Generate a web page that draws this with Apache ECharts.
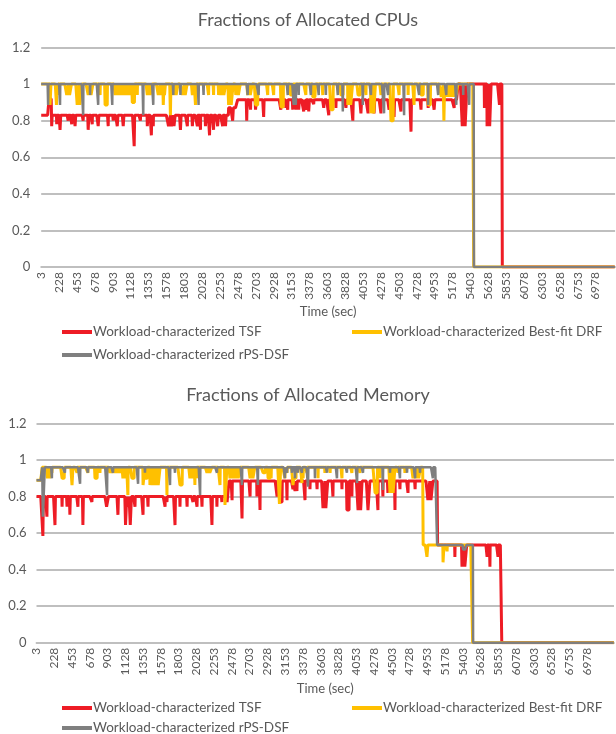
<!DOCTYPE html>
<html><head><meta charset="utf-8">
<script src="https://cdn.jsdelivr.net/npm/echarts@6/dist/echarts.min.js"></script>
<style>html,body{margin:0;padding:0;background:#fff}#c{width:616px;height:734px}</style>
</head><body><div id="c"></div>
<script>
// ---- labels / names ----
const titleTop = 'Fractions of Allocated CPUs';
const titleBottom = 'Fractions of Allocated Memory';
const xName = 'Time (sec)';
const names = ['Workload-characterized TSF', 'Workload-characterized Best-fit DRF', 'Workload-characterized rPS-DSF'];
const colors = ['#ee1c25', '#ffc000', '#7f7f7f'];
const xTickLabels = ['3','228','453','678','903','1128','1353','1578','1803','2028','2253','2478','2703','2928','3153','3378','3603','3828','4053','4278','4503','4728','4953','5178','5403','5628','5853','6078','6303','6528','6753','6978'];
// time axis: samples every 3 s starting at 3 s
const timeStart = 3, timeStep = 3;
const topEnd = 7224, bottomEnd = 7320;

// ---- CPU data: step levels [time, value] and dips [time, value, duration] ----
const cpuTsfLevels = [[3,0.83],[102,0.92],[138,0.83],[2361,0.87],[2475,0.915],[5250,1.0],[5805,0]];
const cpuTsfDips = [[135,0.77,6],[199,0.78],[240,0.75,9],[341,0.80],[388,0.78],[430,0.77,9],[530,0.80],[594,0.75,9],[644,0.78],[720,0.77,9],[846,0.77],[909,0.80],[960,0.77,9],[1035,0.77,9],[1174,0.66,6],[1250,0.80],[1338,0.77,9],[1389,0.72,6],[1414,0.77],[1605,0.77,24],[1640,0.77,24],[1675,0.77,15],[1755,0.75,9],[1843,0.77],[1906,0.77,9],[1969,0.77],[2007,0.75],[2070,0.77,9],[2121,0.72,6],[2171,0.75],[2222,0.77,9],[2285,0.77],[2323,0.77,9],[2411,0.80,9],[2588,0.80,6],[2638,0.86],[2701,0.86,9],[2802,0.82,6],[3017,0.86],[3080,0.87],[3105,0.86],[3168,0.86],[3206,0.86],[3244,0.86,9],[3307,0.85],[3332,0.86],[3370,0.85,9],[3433,0.89],[3559,0.87,9],[3622,0.83,6],[3711,0.87],[3837,0.87,9],[3925,0.80,6],[4026,0.84,9],[4115,0.84],[4190,0.84,9],[4279,0.84],[4380,0.86],[4443,0.82,6],[4531,0.85],[4657,0.74,6],[4783,0.86],[4872,0.87],[4948,0.86,9],[5200,0.87],[5300,0.77,24],[5336,0.77,24],[5580,0.87],[5613,0.77,24],[5645,0.77,18],[5768,0.886]];
const cpuDrfLevels = [[3,1.0],[5445,0]];
const cpuDrfDips = [[114,0.886,12],[195,0.886,9],[215,0.94],[325,0.94,24],[360,0.94,24],[455,0.886,24],[490,0.886,24],[594,0.94,24],[630,0.94,24],[745,0.94],[808,0.886,30],[934,0.94,24],[966,0.94,24],[998,0.94,24],[1030,0.94,24],[1062,0.94,24],[1094,0.94,24],[1126,0.94,18],[1150,0.90,30],[1212,0.94],[1338,0.94,24],[1374,0.94,24],[1477,0.94,24],[1510,0.94,24],[1540,0.886,9],[1553,0.94,12],[1628,0.83,6],[1666,0.94,24],[1700,0.94,24],[1780,0.94,24],[1815,0.94,24],[1906,0.94,24],[1944,0.886,12],[2108,0.94],[2171,0.94],[2234,0.94,24],[2268,0.94,24],[2302,0.94,24],[2360,0.886,24],[2395,0.886,24],[2450,0.94,24],[2485,0.94,24],[2600,0.94,24],[2635,0.94,24],[2700,0.886,30],[2853,0.94],[2928,0.94],[3020,0.875,30],[3140,0.94,30],[3332,0.94],[3420,0.93,36],[3547,0.94],[3647,0.86,30],[3774,0.94,30],[3862,0.886,24],[3896,0.886,24],[3990,0.94,30],[4089,0.94],[4152,0.84,24],[4186,0.84,24],[4279,0.94],[4405,0.80,30],[4506,0.94],[4619,0.94],[4695,0.886],[4783,0.94,30],[4872,0.886,30],[5036,0.93,24],[5070,0.80,9],[5090,0.93,24],[5124,0.93,24],[5158,0.93,24],[5192,0.93,24],[5226,0.94,18]];
const cpuDsfLevels = [[3,1.0],[5448,0]];
const cpuDsfDips = [[89,0.886],[240,0.886],[530,0.83],[619,0.94],[720,0.886],[896,0.886],[1288,0.83],[1414,0.886],[1666,0.94],[1755,0.94],[1982,0.886],[2045,0.94],[2600,0.94],[2739,0.94],[3105,0.94],[3181,0.886],[3206,0.886],[3244,0.94],[3395,0.94],[3496,0.94],[3585,0.94],[3736,0.94],[3799,0.85],[4051,0.886],[4152,0.94],[4317,0.84],[4367,0.94],[4569,0.83],[4758,0.94],[4872,0.886],[4998,0.94],[5099,0.94],[5225,0.886],[5313,0.94],[5389,0.886]];

// ---- Memory data ----
const memTsfLevels = [[3,0.80],[2442,0.885],[5083,0.535],[5897,0]];
const memTsfDips = [[85,0.584,6],[136,0.69],[237,0.644,6],[326,0.744],[389,0.744],[427,0.70,6],[529,0.744],[592,0.644,6],[706,0.77],[890,0.744,24],[1036,0.70,6],[1130,0.644,15],[1160,0.744,15],[1190,0.644,15],[1251,0.744],[1352,0.70],[1416,0.744],[1631,0.744],[1656,0.77],[1758,0.644,6],[1821,0.744],[1910,0.744],[1986,0.77],[2036,0.744],[2100,0.744],[2227,0.644,6],[2290,0.744],[2353,0.77],[2417,0.77,24],[2480,0.78],[2607,0.68,6],[2708,0.80],[2797,0.80],[2835,0.726],[3050,0.80],[3088,0.77,30],[3177,0.78],[3253,0.84],[3278,0.83],[3303,0.83],[3405,0.78],[3468,0.84],[3557,0.84],[3633,0.737,24],[3670,0.737,24],[3760,0.80],[3874,0.84],[3937,0.726,30],[4000,0.80],[4076,0.726,18],[4110,0.726,18],[4203,0.726,24],[4330,0.726],[4393,0.80],[4456,0.82],[4545,0.726],[4609,0.84],[4710,0.82],[4799,0.84],[4963,0.78,24],[5000,0.78,24],[5305,0.47],[5394,0.416,24],[5430,0.416,24],[5711,0.47],[5749,0.416],[5850,0.47]];
const memDrfLevels = [[3,0.89],[75,0.96],[4900,0.535],[5527,0]];
const memDrfDips = [[140,0.90,18],[165,0.90,15],[199,0.93],[326,0.90,30],[453,0.863,12],[516,0.93],[655,0.93],[744,0.90,30],[807,0.93],[934,0.93,24],[966,0.93,24],[998,0.93,24],[1030,0.93,24],[1062,0.93,24],[1099,0.90,24],[1130,0.90,15],[1162,0.808],[1213,0.90,30],[1352,0.863,24],[1380,0.90,30],[1441,0.863,24],[1475,0.863,24],[1510,0.863,24],[1545,0.863,24],[1656,0.808],[1821,0.863,30],[1948,0.90,24],[1980,0.90,24],[2011,0.863],[2030,0.90],[2163,0.93,24],[2200,0.93,24],[2328,0.863],[2391,0.754,24],[2455,0.90,24],[2490,0.90,24],[2525,0.90,24],[2560,0.90,24],[2708,0.90,24],[2745,0.90,24],[2873,0.93,30],[2936,0.90,30],[2975,0.90],[3080,0.76,15],[3151,0.90],[3177,0.93],[3253,0.863,12],[3265,0.90,30],[3367,0.874],[3380,0.90],[3430,0.93],[3570,0.90],[3658,0.93],[3722,0.93],[3874,0.90],[4000,0.93],[4102,0.93],[4292,0.82,30],[4355,0.90],[4482,0.82,24],[4520,0.82,24],[4583,0.93],[4672,0.93],[4773,0.90,24],[4810,0.90,24],[4845,0.90,24],[4950,0.47,12],[5153,0.44,12],[5204,0.50]];
const memDsfLevels = [[3,0.89],[75,0.96],[5077,0.535],[5533,0]];
const memDsfDips = [[85,0.69,24],[199,0.90],[364,0.93],[554,0.87],[655,0.93],[896,0.808],[972,0.93],[1289,0.87],[1378,0.93],[1694,0.863],[1758,0.93],[2075,0.808],[2290,0.93],[2607,0.863],[2809,0.863],[3151,0.90],[3177,0.93],[3240,0.93],[3278,0.90],[3316,0.93],[3367,0.93],[3443,0.854],[3532,0.90],[3684,0.93],[3810,0.90],[3937,0.93],[4064,0.874],[4140,0.93],[4393,0.836],[4482,0.93],[4609,0.90],[4697,0.93],[4799,0.90],[4862,0.93],[5026,0.90],[5407,0.51,45]];

// ---- build ----
function makeCats(end) { const c = []; for (let t = timeStart; t <= end; t += timeStep) c.push(String(t)); return c; }
function idx(t) { return Math.round((t - timeStart) / timeStep); }
function build(n, levels, dips) {
  const arr = new Array(n);
  let li = 0;
  for (let i = 0; i < n; i++) {
    const t = timeStart + i * timeStep;
    while (li + 1 < levels.length && levels[li + 1][0] <= t) li++;
    arr[i] = levels[li][1];
  }
  dips.forEach(d => {
    const dur = d[2] || 3;
    const i0 = idx(d[0]), i1 = idx(d[0] + dur - timeStep);
    for (let i = i0; i <= i1 && i < n; i++) arr[i] = d[1];
  });
  return arr;
}
const catsTop = makeCats(topEnd), catsBottom = makeCats(bottomEnd);
const topData = [build(catsTop.length, cpuTsfLevels, cpuTsfDips), build(catsTop.length, cpuDrfLevels, cpuDrfDips), build(catsTop.length, cpuDsfLevels, cpuDsfDips)];
const botData = [build(catsBottom.length, memTsfLevels, memTsfDips), build(catsBottom.length, memDrfLevels, memDrfDips), build(catsBottom.length, memDsfLevels, memDsfDips)];
const tickSet = new Set(xTickLabels);

const FONT = 'Lato, "Open Sans", sans-serif';
const TXT = '#595959';
const GRID = '#bfbfbf';
const widths = [3, 3, 2.5];

function xAxis(gi, cats, gap) {
  return {
    type: 'category', gridIndex: gi, data: cats, boundaryGap: false,
    axisLine: { lineStyle: { color: GRID, width: 1.8 } }, axisTick: { show: false },
    axisLabel: { interval: (i, v) => tickSet.has(v), rotate: 90, fontSize: 12, color: TXT, fontFamily: FONT, margin: 5 },
    splitLine: { show: false },
    name: xName, nameLocation: 'middle', nameGap: gap,
    nameTextStyle: { fontSize: 13, color: TXT, fontFamily: FONT }
  };
}
function yAxis(gi, margin) {
  return {
    type: 'value', gridIndex: gi, min: 0, max: 1.2, interval: 0.2,
    axisLine: { show: false }, axisTick: { show: false },
    axisLabel: { fontSize: 13, color: TXT, fontFamily: FONT, margin: margin },
    splitLine: { lineStyle: { color: GRID, width: 1.8 } }
  };
}
const series = [];
[topData, botData].forEach((set, gi) => {
  set.forEach((d, k) => {
    series.push({
      type: 'line', name: names[k], xAxisIndex: gi, yAxisIndex: gi, data: d,
      showSymbol: false, symbol: 'none', color: colors[k],
      lineStyle: { width: widths[k], color: colors[k], join: 'bevel', cap: 'butt' },
      emphasis: { disabled: true }, silent: true
    });
  });
});
function leg(name, left, top) {
  return {
    data: [name], left: left, top: top, icon: 'rect', itemWidth: 30, itemHeight: 4,
    selectedMode: false, textStyle: { fontSize: 13.5, color: TXT, fontFamily: FONT, padding: [0, 0, 0, -4] }
  };
}
const chart = echarts.init(document.getElementById('c'), null, { renderer: 'canvas' });
chart.setOption({
  animation: false,
  backgroundColor: '#fff',
  title: [
    { text: titleTop, left: 'center', top: 6, textStyle: { fontSize: 18, fontWeight: 'normal', color: TXT, fontFamily: FONT } },
    { text: titleBottom, left: 'center', top: 381, textStyle: { fontSize: 18, fontWeight: 'normal', color: TXT, fontFamily: FONT } }
  ],
  legend: [
    leg(names[0], 57, 320), leg(names[1], 347, 320), leg(names[2], 57, 343),
    leg(names[0], 57, 696), leg(names[1], 347, 696), leg(names[2], 57, 716)
  ],
  grid: [
    { left: 41.2, top: 47.5, width: 573.9, height: 219.5 },
    { left: 36.5, top: 423.5, width: 577.5, height: 219.2 }
  ],
  xAxis: [xAxis(0, catsTop, 38), xAxis(1, catsBottom, 40)],
  yAxis: [yAxis(0, 11), yAxis(1, 10)],
  series: series
});
</script></body></html>
